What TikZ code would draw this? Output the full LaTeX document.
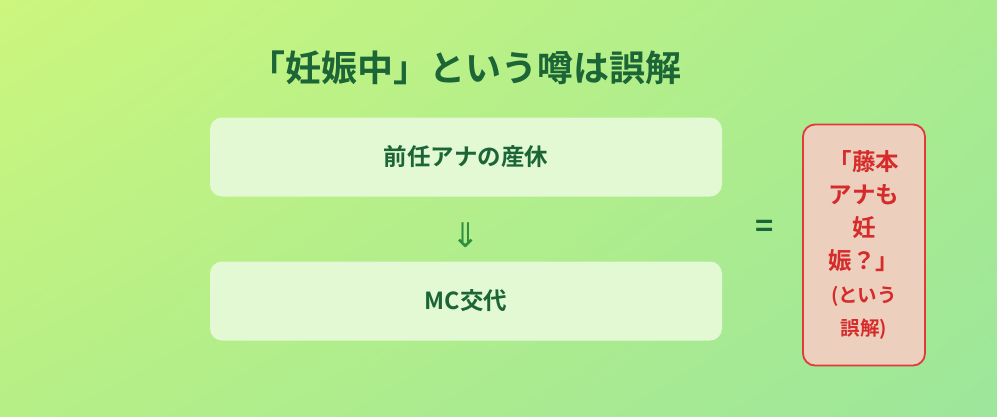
\documentclass[tikz,border=0pt]{standalone}
\usepackage{fontspec}
\usetikzlibrary{shadings}
\setmainfont{Noto Sans CJK JP}[BoldFont={Noto Sans CJK JP Bold}]
\newfontfamily\arrowfont{DejaVu Sans}
\definecolor{bgA}{HTML}{CCF67E}
\definecolor{bgB}{HTML}{A9EC8E}
\definecolor{bgC}{HTML}{B6EF86}
\definecolor{bgD}{HTML}{9DE69B}
\definecolor{darkgreen}{HTML}{1B6536}
\definecolor{arrowgreen}{HTML}{2E8F3E}
\definecolor{boxfill}{HTML}{E2F9D4}
\definecolor{warnred}{HTML}{E03A3A}
\definecolor{warnfill}{HTML}{EDCFBE}
\definecolor{warntext}{HTML}{D62B2B}
\newcommand{\smallnote}{\fontsize{19.5}{33}\selectfont}

\begin{document}
\begin{tikzpicture}[x=1pt,y=-1pt,
	stepbox/.style={fill=boxfill,rounded corners=12pt,minimum width=512pt,minimum height=79pt,
		text=darkgreen,font=\fontsize{23.5}{28}\selectfont\bfseries},
	warnbox/.style={draw=warnred,line width=1.8pt,fill=warnfill,rounded corners=12pt,
		minimum width=122pt,minimum height=241pt,inner sep=0pt},
	warnlabel/.style={text=warntext,font=\fontsize{23.5}{33}\selectfont\bfseries,align=center}]
	\useasboundingbox (0,0) rectangle (997,416);
	\shade[upper left=bgA,upper right=bgB,lower left=bgC,lower right=bgD] (0,0) rectangle (997,416);
	% title
	\node[text=darkgreen,font=\fontsize{36}{40}\selectfont\bfseries] (title) at (465,68) {「妊娠中」という噂は誤解};
	% steps
	\node[stepbox] (leave) at (466,157) {前任アナの産休};
	\node[stepbox] (change) at (466,301) {MC交代};
	\node[text=arrowgreen,font=\arrowfont\fontsize{34}{36}\selectfont] (arrow) at (466,235) {⇓};
	\node[text=darkgreen,font=\fontsize{31}{34}\selectfont\bfseries] (equals) at (765,229) {=};
	% misunderstanding
	\node[warnbox] (rumor) at (864,245) {};
	\node[warnlabel] (rumortext) at (864,245) {%
		「藤本\\ アナも\\ 妊\\ 娠？」\\
		\smallnote (という\\ \smallnote 誤解)};
\end{tikzpicture}
\end{document}
